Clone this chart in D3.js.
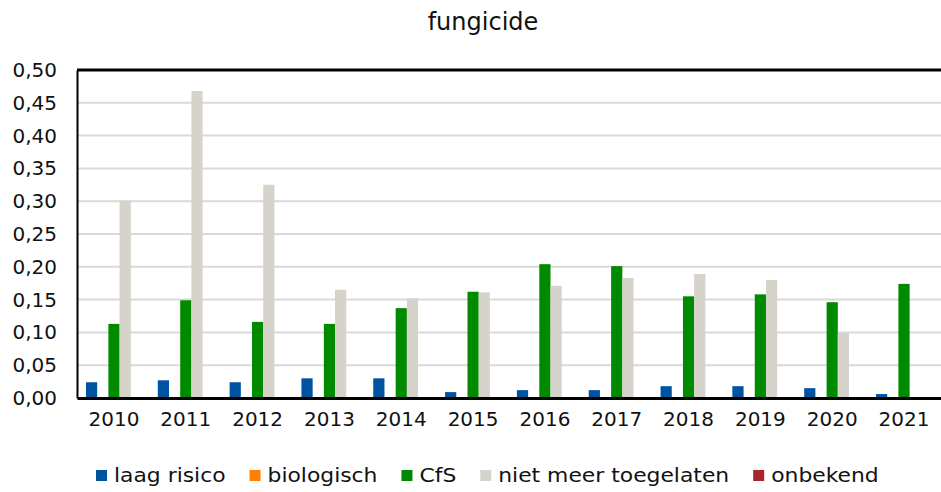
<!DOCTYPE html>
<html>
<head>
    <title>fungicide</title>
    <script src="https://cdnjs.cloudflare.com/ajax/libs/d3/7.8.5/d3.min.js"></script>
    <style>
        html, body {
            margin: 0;
            padding: 0;
            background: #ffffff;
            font-family: 'DejaVu Sans', Verdana, sans-serif;
        }
        #chart svg { display: block; }
        .grid line { stroke: #d9d9d9; stroke-width: 2px; }
    </style>
</head>
<body>
    <div id="chart"></div>
    <script>
        const years = ['2010', '2011', '2012', '2013', '2014', '2015', '2016', '2017', '2018', '2019', '2020', '2021'];
        const seriesNames = ['laag risico', 'biologisch', 'CfS', 'niet meer toegelaten', 'onbekend'];
        const seriesColors = ['#00539f', '#ff7f00', '#008a00', '#d6d3cb', '#a5262c'];

        const laagRisico = [0.024, 0.027, 0.024, 0.030, 0.030, 0.009, 0.012, 0.012, 0.018, 0.018, 0.015, 0.006];
        const biologisch = [0, 0, 0, 0, 0, 0, 0, 0, 0, 0, 0, 0];
        const cfs = [0.113, 0.149, 0.116, 0.113, 0.137, 0.162, 0.204, 0.201, 0.155, 0.158, 0.146, 0.174];
        const nietMeerToegelaten = [0.301, 0.468, 0.325, 0.165, 0.152, 0.161, 0.171, 0.183, 0.189, 0.180, 0.099, 0];
        const onbekend = [0, 0, 0, 0, 0, 0, 0, 0, 0, 0, 0, 0];

        const yTicks = [0, 0.05, 0.10, 0.15, 0.20, 0.25, 0.30, 0.35, 0.40, 0.45, 0.50];

        const allSeries = [laagRisico, biologisch, cfs, nietMeerToegelaten, onbekend];

        const width = 941, height = 492;
        const margin = { top: 70, right: 0, bottom: 94, left: 77 };

        const svg = d3.select('#chart')
            .append('svg')
            .attr('width', width)
            .attr('height', height);

        const x = d3.scaleBand()
            .domain(years)
            .range([margin.left, width - margin.right])
            .paddingInner(0.22)
            .paddingOuter(0.125);

        const xInner = d3.scaleBand()
            .domain(d3.range(seriesNames.length))
            .range([0, x.bandwidth()]);

        const y = d3.scaleLinear()
            .domain([0, 0.5])
            .range([height - margin.bottom, margin.top]);

        // gridlines
        svg.append('g')
            .attr('class', 'grid')
            .selectAll('line')
            .data(yTicks.filter(d => d > 0 && d < 0.5))
            .enter()
            .append('line')
            .attr('x1', margin.left)
            .attr('x2', width)
            .attr('y1', d => y(d))
            .attr('y2', d => y(d));

        // bars
        const rows = [];
        years.forEach((yr, i) => {
            allSeries.forEach((s, j) => {
                if (s[i] > 0) rows.push({ year: yr, series: j, value: s[i] });
            });
        });

        svg.append('g')
            .selectAll('rect')
            .data(rows)
            .enter()
            .append('rect')
            .attr('x', d => x(d.year) + xInner(d.series))
            .attr('y', d => y(d.value))
            .attr('width', xInner.bandwidth())
            .attr('height', d => y(0) - y(d.value))
            .attr('fill', d => seriesColors[d.series]);

        // frame: top, left, bottom
        svg.append('line')
            .attr('x1', margin.left).attr('x2', width)
            .attr('y1', y(0.5)).attr('y2', y(0.5))
            .attr('stroke', '#000').attr('stroke-width', 3);

        const yAxis = d3.axisLeft(y)
            .tickValues(yTicks)
            .tickSize(0)
            .tickPadding(20)
            .tickFormat(d => d3.format('.2f')(d).replace('.', ','));

        svg.append('g')
            .attr('transform', 'translate(' + margin.left + ',0)')
            .call(yAxis)
            .call(g => g.select('.domain').attr('stroke', '#000').attr('stroke-width', 2))
            .call(g => g.selectAll('text')
                .attr('fill', '#111')
                .style('font-size', '20px')
                .style('font-family', "'DejaVu Sans', Verdana, sans-serif"));

        const xAxis = d3.axisBottom(x)
            .tickSize(0)
            .tickPadding(14);

        svg.append('g')
            .attr('transform', 'translate(0,' + y(0) + ')')
            .call(xAxis)
            .call(g => g.select('.domain').attr('stroke', '#000').attr('stroke-width', 3))
            .call(g => g.selectAll('text')
                .attr('fill', '#111')
                .style('font-size', '20px')
                .style('font-family', "'DejaVu Sans', Verdana, sans-serif"));

        // title
        svg.append('text')
            .attr('x', 483)
            .attr('y', 30)
            .attr('text-anchor', 'middle')
            .attr('fill', '#111')
            .style('font-size', '24px')
            .text('fungicide');

        // legend (text is drawn a bit wider than tall, like the source)
        const legend = svg.append('g').attr('transform', 'translate(0,482)');
        const stretch = 1.15;
        let lx = 96;
        const items = legend.selectAll('g')
            .data(seriesNames)
            .enter()
            .append('g');

        items.append('rect')
            .attr('y', -12)
            .attr('width', 11)
            .attr('height', 11)
            .attr('fill', (d, i) => seriesColors[i]);

        items.append('text')
            .attr('transform', 'translate(18,0) scale(' + stretch + ',1)')
            .attr('fill', '#111')
            .style('font-size', '19px')
            .text(d => d);

        items.each(function () {
            const g = d3.select(this);
            g.attr('transform', 'translate(' + lx + ',0)');
            lx += 18 + g.select('text').node().getComputedTextLength() * stretch + 24;
        });
    </script>
</body>
</html>
